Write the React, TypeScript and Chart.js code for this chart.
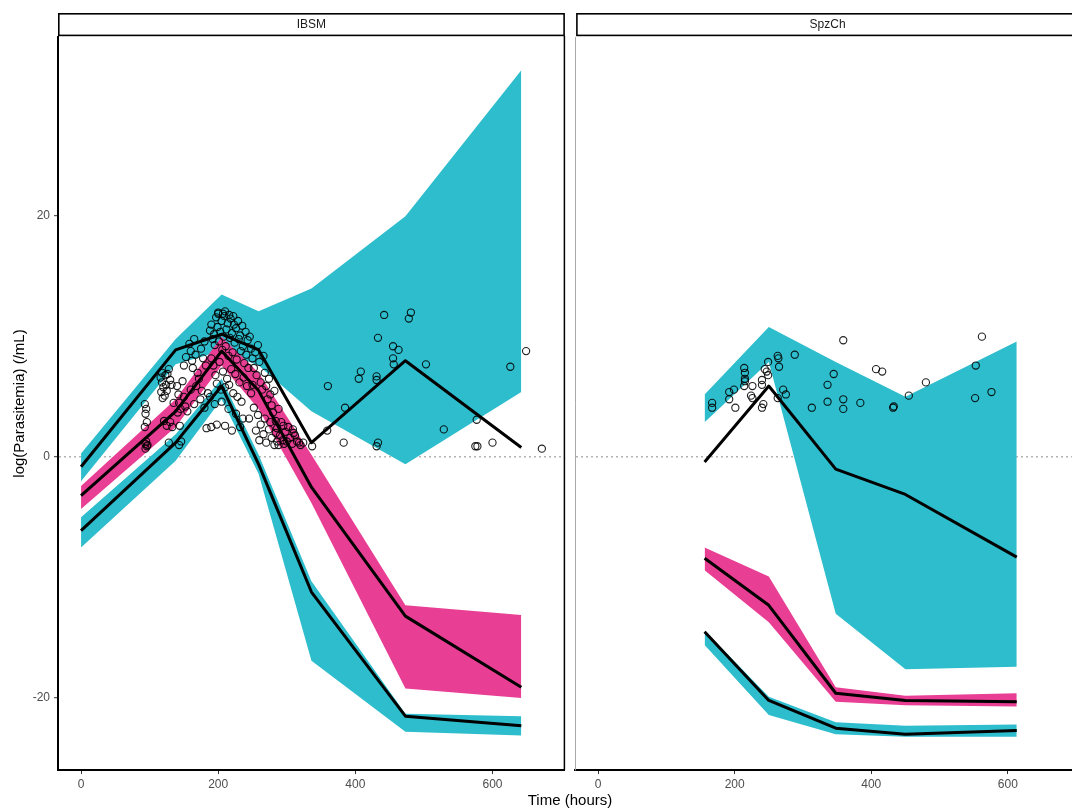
import React, { useEffect, useRef } from "react";
import { Chart, registerables } from "chart.js";

Chart.register(...registerables);

const FONT = '"Liberation Sans", Arial, Helvetica, sans-serif';

// Axis settings
const X_TICKS = [0, 200, 400, 600];
const Y_TICKS = [-20, 0, 20];
const X_MIN = -33.6;
const X_MAX = 705.6;
const Y_MIN = -25.97;
const Y_MAX = 34.87;

const TEAL = "#2DBDCC";
const PINK = "#E83F95";

// ---------- IBSM panel ----------
const ibsmTime = [0, 138, 205, 259, 336, 473, 642];
const ibsmObsP95 = [-0.8, 8.9, 10.2, 8.9, 1.2, 8.0, 0.8];
const ibsmObsP50 = [-3.2, 3.8, 8.8, 5.5, -2.5, -13.2, -19.1];
const ibsmObsP05 = [-6.1, 1.2, 5.9, -0.6, -11.2, -21.5, -22.3];
const ibsmHiUpper = [0.3, 9.8, 13.5, 12.1, 14.0, 20.0, 32.1];
const ibsmHiLower = [-2.0, 7.7, 8.8, 7.6, 3.8, -0.6, 5.4];
const ibsmMidUpper = [-2.4, 4.8, 10.0, 7.0, 0.2, -12.3, -13.1];
const ibsmMidLower = [-4.3, 2.5, 7.6, 4.0, -3.8, -19.2, -20.0];
const ibsmLoUpper = [-5.0, 1.9, 6.5, 0.2, -10.3, -21.3, -21.5];
const ibsmLoLower = [-7.5, -0.3, 4.8, -1.4, -16.9, -22.8, -23.1];
const ibsmObserved: [number, number][] = [
  [93, 4.4], [95, 4.0], [94, 3.6], [96, 2.9], [93, 2.5], [95, 1.3], [94, 1.1], [96, 0.9], [97, 1.0], [94, 0.7],
  [116, 6.6], [118, 6.2], [120, 5.8], [117, 5.4], [122, 5.1], [124, 6.0], [126, 6.9], [128, 7.3], [125, 5.5], [130, 6.4],
  [132, 6.0], [119, 4.9], [121, 3.0], [125, 2.6], [130, 2.9], [128, 1.2], [133, 2.5], [135, 4.5], [118, 7.0], [123, 6.8],
  [140, 5.9], [142, 5.2], [143, 4.5], [145, 4.0], [141, 3.7], [144, 2.6], [146, 1.3], [143, 1.0], [150, 5.0], [152, 4.2],
  [148, 6.3], [155, 3.8], [153, 8.3], [150, 7.6],
  [158, 9.4], [160, 8.8], [162, 8.0], [163, 7.4], [165, 9.8], [167, 8.5], [170, 7.0], [172, 6.5], [175, 9.0], [178, 8.2],
  [180, 9.6], [182, 7.6], [168, 5.9], [176, 5.5], [174, 4.8], [160, 5.6], [165, 4.4], [180, 4.1], [185, 5.3], [183, 2.4],
  [188, 10.5], [190, 11.0], [192, 9.8], [194, 10.2], [195, 9.3], [197, 11.6], [199, 10.8], [200, 11.9], [201, 9.6], [203, 10.4],
  [205, 11.3], [206, 8.9], [208, 10.0], [209, 11.7], [211, 9.2], [212, 10.6], [214, 11.1], [215, 8.4], [217, 9.9], [218, 11.5],
  [220, 10.3], [221, 8.7], [223, 11.0], [224, 9.5], [226, 10.7], [227, 8.1], [229, 11.3], [230, 9.8], [232, 10.1], [233, 8.8],
  [235, 10.9], [236, 9.2], [238, 7.8], [240, 10.4], [241, 8.5], [243, 9.7], [244, 7.4], [190, 8.2], [193, 7.6], [196, 6.8],
  [202, 7.9], [207, 7.1], [213, 6.5], [219, 7.3], [225, 6.9], [231, 6.2], [237, 6.6], [242, 5.9], [198, 6.1], [204, 5.6],
  [210, 5.8], [216, 6.0], [222, 5.3], [228, 5.0], [234, 4.6], [188, 5.0], [195, 4.4], [205, 4.6], [215, 4.0], [226, 3.6],
  [236, 3.2], [190, 2.5], [198, 2.7], [210, 2.6], [220, 2.2], [232, 2.5], [200, 12.0], [210, 12.1], [207, 11.9], [216, 11.8],
  [222, 11.7],
  [246, 10.0], [248, 9.0], [250, 8.2], [252, 7.4], [254, 8.7], [256, 6.8], [258, 9.3], [260, 7.9], [262, 6.2], [264, 5.6],
  [266, 8.4], [268, 7.0], [270, 5.9], [272, 4.8], [274, 6.5], [276, 5.2], [278, 4.3], [280, 3.7], [282, 5.5], [284, 3.0],
  [286, 2.4], [288, 4.0], [290, 1.8], [292, 2.9], [294, 1.4], [296, 1.1], [298, 2.1], [300, 1.3], [248, 5.3], [252, 4.1],
  [258, 3.5], [262, 2.7], [266, 1.9], [270, 1.2], [274, 2.3], [278, 1.6], [282, 1.0], [286, 1.3], [250, 6.0], [255, 2.2],
  [260, 1.4], [268, 3.2], [276, 2.9], [284, 2.0], [288, 1.0], [245, 3.2], [302, 2.5], [305, 1.6], [308, 1.1], [310, 2.0],
  [315, 1.3], [320, 1.0], [295, 2.6], [312, 1.8], [318, 1.2], [324, 1.2],
  [442, 11.8], [481, 12.0], [478, 11.5], [433, 9.9], [455, 9.2], [463, 8.9], [455, 8.2], [456, 7.7], [503, 7.7], [626, 7.5],
  [649, 8.8], [408, 7.1], [405, 6.5], [431, 6.7], [431, 6.4], [360, 5.9], [385, 4.1], [359, 2.2], [529, 2.3], [577, 3.1],
  [383, 1.2], [433, 1.2], [431, 0.9], [575, 0.9], [578, 0.9], [600, 1.2], [672, 0.7], [337, 0.9], [309, 2.3],
];

// ---------- SpzCh panel ----------
const spzTime = [156, 250, 348, 450, 613];
const spzObsP95 = [-0.4, 5.9, -1.0, -3.1, -8.3];
const spzObsP50 = [-8.4, -12.3, -19.6, -20.2, -20.3];
const spzObsP05 = [-14.5, -20.2, -22.5, -23.0, -22.7];
const spzHiUpper = [5.2, 10.8, 7.9, 5.0, 9.6];
const spzHiLower = [2.9, 7.9, -13.0, -17.6, -17.4];
const spzMidUpper = [-7.5, -9.9, -19.1, -19.8, -19.6];
const spzMidLower = [-9.4, -13.7, -20.3, -20.6, -20.7];
const spzLoUpper = [-14.4, -19.9, -22.0, -22.3, -22.2];
const spzLoLower = [-15.6, -21.4, -23.0, -23.2, -23.2];
const spzObserved: [number, number][] = [
  [167, 4.5], [167, 4.1], [192, 5.4], [199, 5.6], [192, 4.8], [201, 4.1], [214, 7.4], [215, 6.5], [215, 6.3], [214, 5.9],
  [226, 5.9], [224, 5.1], [226, 4.9], [240, 6.4], [242, 4.4], [240, 4.1], [249, 7.9], [247, 7.1], [249, 6.8], [263, 8.4],
  [264, 8.2], [265, 7.5], [271, 5.6], [275, 5.2], [263, 4.9], [288, 8.5], [313, 4.1], [359, 9.7], [345, 6.9], [336, 6.0],
  [336, 4.6], [359, 4.8], [359, 4.0], [384, 4.5], [407, 7.3], [416, 7.1], [432, 4.1], [433, 4.2], [455, 5.1], [480, 6.2],
  [562, 10.0], [553, 7.6], [576, 5.4], [552, 4.9], [215, 7.0], [244, 7.3], [240, 6.0],
];

type Panel = {
  label: string;
  time: number[];
  p95: number[];
  p50: number[];
  p05: number[];
  hiU: number[];
  hiL: number[];
  midU: number[];
  midL: number[];
  loU: number[];
  loL: number[];
  obs: [number, number][];
};

const ibsm: Panel = {
  label: "IBSM", time: ibsmTime, p95: ibsmObsP95, p50: ibsmObsP50, p05: ibsmObsP05,
  hiU: ibsmHiUpper, hiL: ibsmHiLower, midU: ibsmMidUpper, midL: ibsmMidLower,
  loU: ibsmLoUpper, loL: ibsmLoLower, obs: ibsmObserved,
};
const spz: Panel = {
  label: "SpzCh", time: spzTime, p95: spzObsP95, p50: spzObsP50, p05: spzObsP05,
  hiU: spzHiUpper, hiL: spzHiLower, midU: spzMidUpper, midL: spzMidLower,
  loU: spzLoUpper, loL: spzLoLower, obs: spzObserved,
};

function xy(xs: number[], ys: number[]) {
  return xs.map((x, i) => ({ x, y: ys[i] }));
}

function buildDatasets(p: Panel) {
  const line = (ys: number[]) => ({
    data: xy(p.time, ys),
    borderColor: "#000",
    borderWidth: 3,
    pointRadius: 0,
    fill: false,
    tension: 0,
    borderJoinStyle: "round",
  });
  const bandPair = (up: number[], lo: number[], color: string) => [
    { data: xy(p.time, up), borderWidth: 0, borderColor: "rgba(0,0,0,0)", pointRadius: 0, fill: false },
    {
      data: xy(p.time, lo), borderWidth: 0, borderColor: "rgba(0,0,0,0)", pointRadius: 0,
      fill: "-1", backgroundColor: color,
    },
  ];
  return [
    {
      data: p.obs.map(([x, y]) => ({ x, y })),
      showLine: false,
      pointRadius: 3.6,
      pointBorderWidth: 1.1,
      pointBorderColor: "rgba(0,0,0,0.88)",
      pointBackgroundColor: "rgba(0,0,0,0)",
      fill: false,
    },
    line(p.p95),
    line(p.p50),
    line(p.p05),
    ...bandPair(p.midU, p.midL, PINK),
    ...bandPair(p.loU, p.loL, TEAL),
    ...bandPair(p.hiU, p.hiL, TEAL),
  ];
}

const panelPlugin = {
  id: "panelDecor",
  afterDraw(chart: any, _args: any, opts: any) {
    const { ctx, chartArea: a } = chart;
    ctx.save();
    // right border of left panel
    if (opts.isLeft) {
      ctx.strokeStyle = "#000";
      ctx.lineWidth = 1.5;
      ctx.beginPath();
      ctx.moveTo(a.right - 0.5, 36);
      ctx.lineTo(a.right - 0.5, a.bottom);
      ctx.stroke();
    }
    // strip
    const sx = opts.isLeft ? a.left : a.left + 1;
    const w = a.right - sx;
    ctx.fillStyle = "#fff";
    ctx.fillRect(sx, 13, w, 23);
    ctx.strokeStyle = "#000";
    ctx.lineWidth = 1.6;
    ctx.strokeRect(sx + 0.8, 13.8, w - 1.6, 21.6);
    ctx.fillStyle = "#1a1a1a";
    ctx.font = `12px ${FONT}`;
    ctx.textAlign = "center";
    ctx.textBaseline = "middle";
    ctx.fillText(opts.label, (a.left + a.right) / 2, 25);
    ctx.restore();
  },
};

function makeConfig(p: Panel, isLeft: boolean): any {
  return {
    type: "line",
    data: { datasets: buildDatasets(p) },
    options: {
      responsive: false,
      maintainAspectRatio: false,
      animation: false,
      devicePixelRatio: 1,
      events: [],
      layout: {
        padding: { top: 37, right: isLeft ? 4 : 10, left: 0, bottom: 0 },
      },
      plugins: {
        legend: { display: false },
        tooltip: { enabled: false },
        panelDecor: { label: p.label, isLeft },
      },
      scales: {
        x: {
          type: "linear",
          min: X_MIN,
          max: X_MAX,
          afterFit: (s: any) => { s.height = 38; },
          afterBuildTicks: (s: any) => { s.ticks = X_TICKS.map((v) => ({ value: v })); },
          ticks: {
            color: "#4d4d4d",
            font: { size: 12, family: FONT },
            padding: 3,
            maxRotation: 0,
            autoSkip: false,
          },
          grid: {
            display: true,
            drawOnChartArea: false,
            drawTicks: true,
            tickLength: 4,
            tickColor: "#333",
            tickWidth: 1,
          },
          border: { display: true, color: "#000", width: 2 },
        },
        y: {
          type: "linear",
          min: Y_MIN,
          max: Y_MAX,
          afterFit: (s: any) => { s.width = isLeft ? 58 : 3; },
          afterBuildTicks: (s: any) => { s.ticks = Y_TICKS.map((v) => ({ value: v })); },
          ticks: {
            display: isLeft,
            color: "#4d4d4d",
            font: { size: 12, family: FONT },
            padding: 4,
          },
          grid: {
            display: true,
            drawOnChartArea: true,
            drawTicks: isLeft,
            tickLength: 4,
            tickColor: "#333",
            tickWidth: 1,
            lineWidth: 1.4,
            color: (c: any) => (c.tick && c.tick.value === 0 ? "#b3b3b3" : "rgba(0,0,0,0)"),
          },
          border: {
            display: true,
            color: isLeft ? "#000" : "#a8a8a8",
            width: isLeft ? 2 : 1,
            dash: [2, 3],
          },
          title: isLeft
            ? {
                display: true,
                text: "log(Parasitemia) (/mL)",
                color: "#000",
                font: { size: 15, family: FONT },
                padding: { top: 11, bottom: 0 },
              }
            : { display: false },
        },
      },
    },
    plugins: [panelPlugin],
  };
}

export default function App() {
  const leftRef = useRef<HTMLCanvasElement>(null);
  const rightRef = useRef<HTMLCanvasElement>(null);

  useEffect(() => {
    const c1 = new Chart(leftRef.current as HTMLCanvasElement, makeConfig(ibsm, true));
    const c2 = new Chart(rightRef.current as HTMLCanvasElement, makeConfig(spz, false));
    return () => {
      c1.destroy();
      c2.destroy();
    };
  }, []);

  return (
    <div
      style={{
        position: "fixed",
        left: 0,
        top: 0,
        width: 1072,
        height: 808,
        overflow: "hidden",
        background: "#fff",
      }}
    >
      <canvas
        ref={leftRef}
        width={570}
        height={808}
        style={{ position: "absolute", left: 0, top: 0, width: 570, height: 808 }}
      />
      <canvas
        ref={rightRef}
        width={520}
        height={808}
        style={{ position: "absolute", left: 570, top: 0, width: 520, height: 808 }}
      />
      <div
        style={{
          position: "absolute",
          left: 0,
          top: 791,
          width: 1140,
          textAlign: "center",
          font: `15px ${FONT}`,
          lineHeight: "18px",
          color: "#000",
        }}
      >
        Time (hours)
      </div>
    </div>
  );
}
